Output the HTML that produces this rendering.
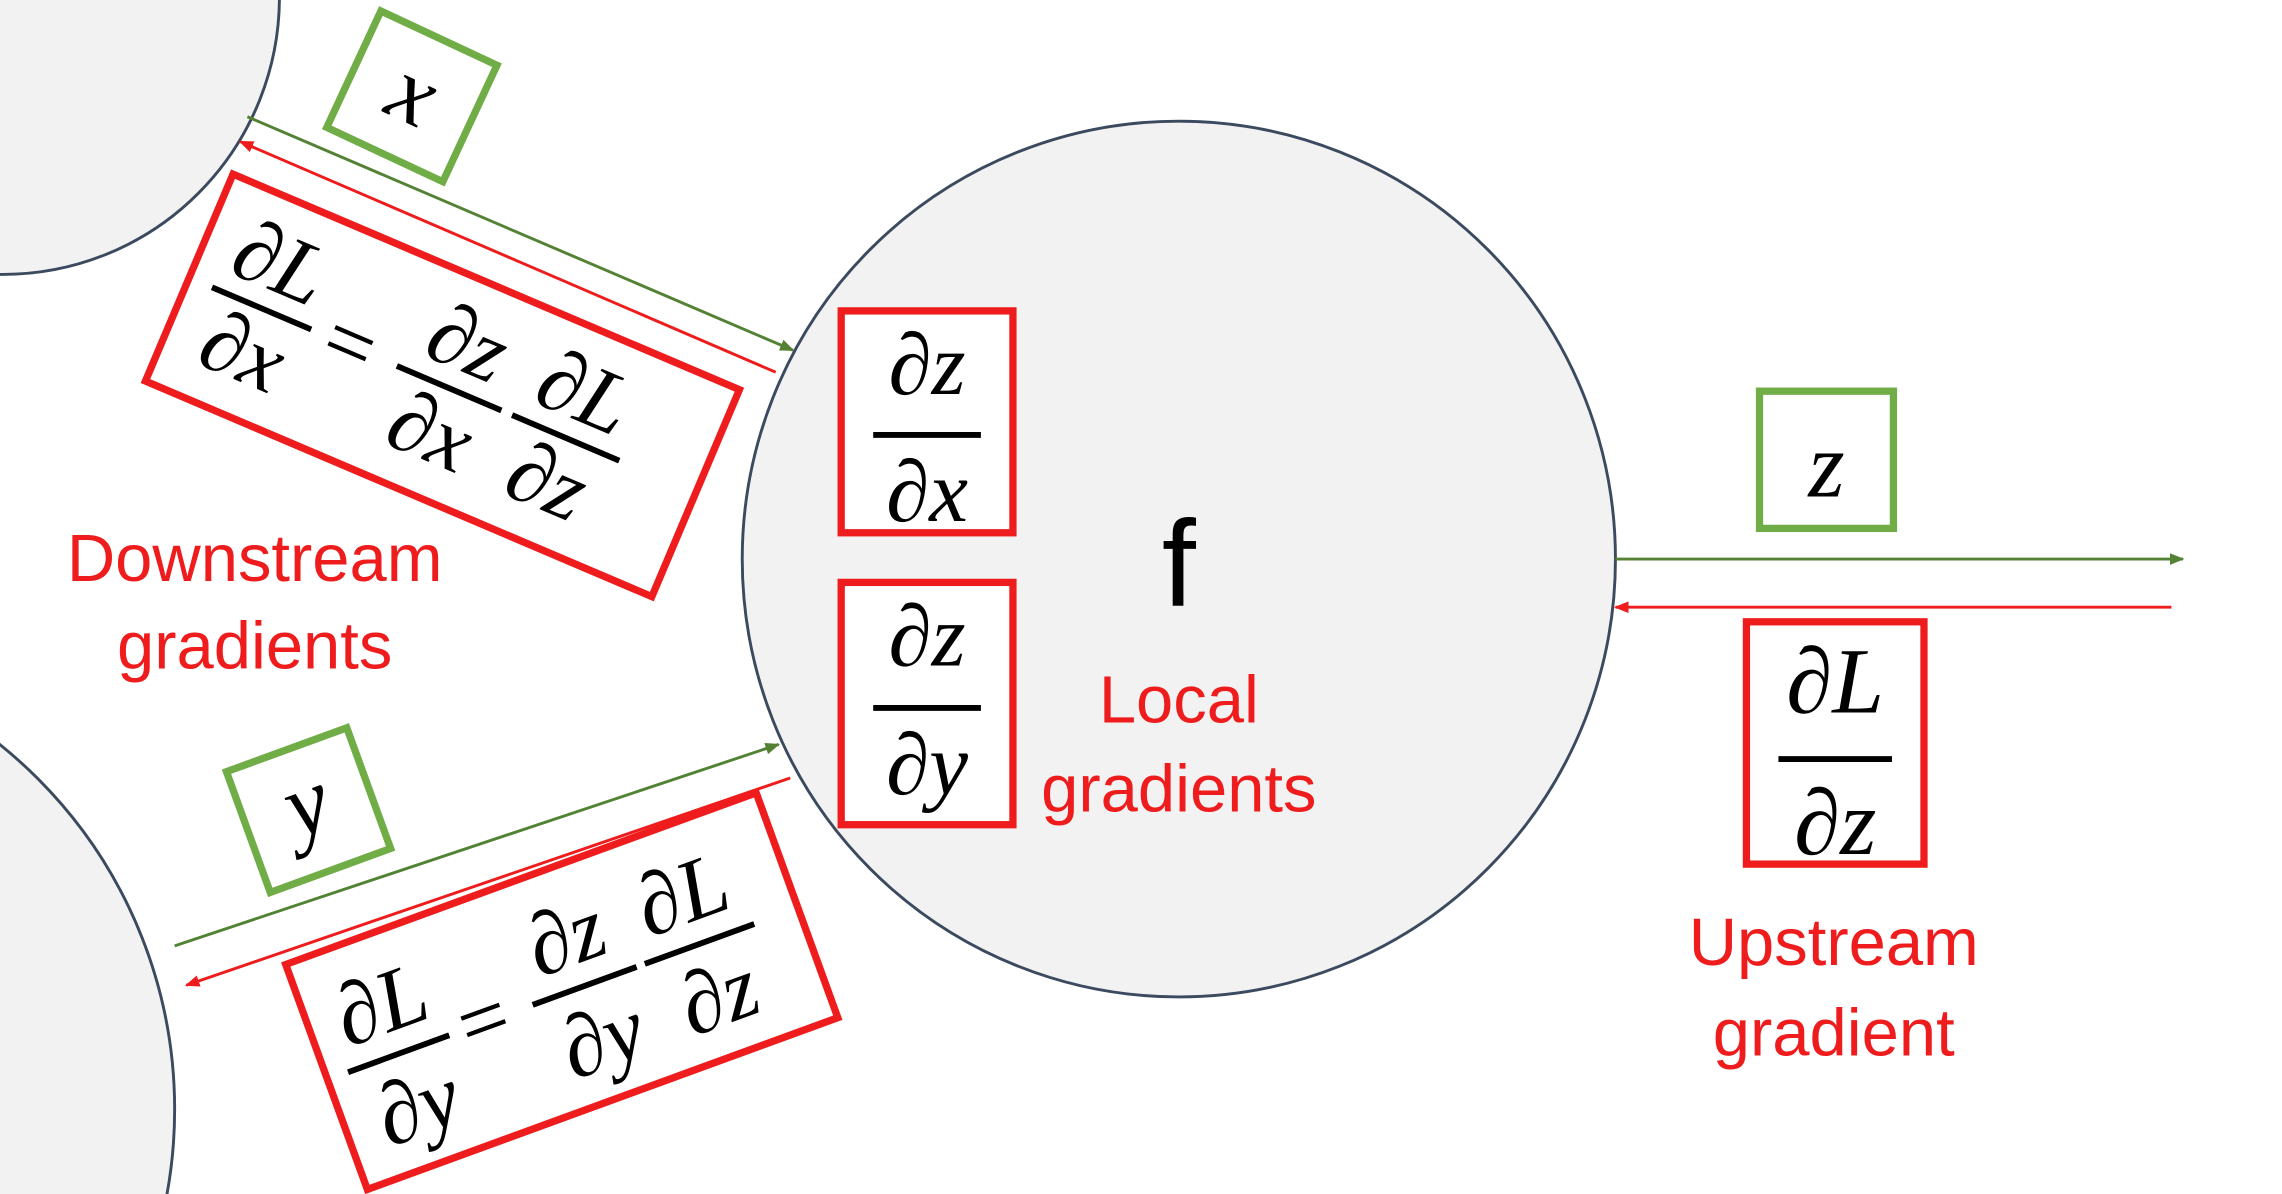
<!DOCTYPE html>
<html><head><meta charset="utf-8"><style>
html,body{margin:0;padding:0;background:#fff;overflow:hidden;width:2282px;height:1194px;}
svg{display:block;}
.m{font-family:"Liberation Serif",serif;font-style:italic;fill:#000;}
.r{font-family:"Liberation Sans",sans-serif;fill:#ee1c1c;}
</style></head><body>
<svg width="2282" height="1194" viewBox="0 0 1568 818" preserveAspectRatio="none" xmlns="http://www.w3.org/2000/svg">
<defs>
<marker id="ag" markerWidth="10" markerHeight="8" refX="9" refY="4" orient="auto" markerUnits="userSpaceOnUse"><path d="M0,0 L10,4 L0,8z" fill="#548235"/></marker>
<marker id="ar" markerWidth="10" markerHeight="8" refX="9" refY="4" orient="auto" markerUnits="userSpaceOnUse"><path d="M0,0 L10,4 L0,8z" fill="#ee1c1c"/></marker>
<clipPath id="c"><rect width="1568" height="818"/></clipPath>
</defs>
<g clip-path="url(#c)">
<rect width="1568" height="818" fill="#fff"/>
<circle cx="2" cy="-2" r="190" fill="#f2f2f2" stroke="#3b4a5e" stroke-width="2"/>
<circle cx="-200" cy="760" r="320" fill="#f2f2f2" stroke="#3b4a5e" stroke-width="2"/>
<circle cx="810" cy="383" r="300" fill="#f2f2f2" stroke="#3b4a5e" stroke-width="2"/>
<text x="810" y="415" font-family="Liberation Sans,sans-serif" font-size="84" text-anchor="middle">f</text>

<rect x="578" y="213" width="118" height="152" fill="#fff" stroke="#ee1c1c" stroke-width="5"/>
<text class="m" x="637" y="270" font-size="60" text-anchor="middle">∂z</text>
<line x1="600" y1="298" x2="674" y2="298" stroke="#000" stroke-width="4"/>
<text class="m" x="637" y="357" font-size="60" text-anchor="middle">∂x</text>
<rect x="578" y="399" width="118" height="166" fill="#fff" stroke="#ee1c1c" stroke-width="5"/>
<text class="m" x="637" y="456" font-size="60" text-anchor="middle">∂z</text>
<line x1="600" y1="485" x2="674" y2="485" stroke="#000" stroke-width="4"/>
<text class="m" x="637" y="544" font-size="60" text-anchor="middle">∂y</text>
<text class="r" x="810" y="495" font-size="46" text-anchor="middle">Local</text>
<text class="r" x="810" y="556" font-size="46" text-anchor="middle">gradients</text>

<rect x="1209" y="268" width="92" height="94" fill="#fff" stroke="#70ad47" stroke-width="5"/>
<text class="m" x="1255" y="340" font-size="64" text-anchor="middle">z</text>
<line x1="1110" y1="383" x2="1500" y2="383" stroke="#548235" stroke-width="2" marker-end="url(#ag)"/>
<line x1="1492" y1="416" x2="1110" y2="416" stroke="#ee1c1c" stroke-width="2" marker-end="url(#ar)"/>
<rect x="1200" y="426" width="122" height="166" fill="#fff" stroke="#ee1c1c" stroke-width="5"/>
<text class="m" x="1261" y="488" font-size="64" text-anchor="middle">∂L</text>
<line x1="1222" y1="520" x2="1300" y2="520" stroke="#000" stroke-width="4"/>
<text class="m" x="1261" y="585" font-size="64" text-anchor="middle">∂z</text>
<text class="r" x="1260" y="661" font-size="46" text-anchor="middle">Upstream</text>
<text class="r" x="1260" y="723" font-size="46" text-anchor="middle">gradient</text>

<line x1="170" y1="80" x2="545" y2="240" stroke="#548235" stroke-width="2" marker-end="url(#ag)"/>
<line x1="533" y1="255" x2="165" y2="97" stroke="#ee1c1c" stroke-width="2" marker-end="url(#ar)"/>
<g transform="translate(283,66) rotate(25)">
<rect x="-44" y="-44" width="88" height="88" fill="#fff" stroke="#70ad47" stroke-width="5"/>
<text class="m" x="0" y="18" font-size="64" text-anchor="middle">x</text>
</g>
<g transform="translate(304,264) rotate(23)">
<rect x="-189" y="-77" width="378" height="154" fill="#fff" stroke="#ee1c1c" stroke-width="5"/>
<text class="m" x="-135" y="-14" font-size="60" text-anchor="middle">∂L</text>
<line x1="-172" y1="0" x2="-98" y2="0" stroke="#000" stroke-width="4"/>
<text class="m" x="-135" y="52" font-size="60" text-anchor="middle">∂x</text>
<text class="m" x="-70" y="18" font-size="60" text-anchor="middle" font-style="normal">=</text>
<text class="m" x="5" y="-14" font-size="60" text-anchor="middle">∂z</text>
<line x1="-34" y1="0" x2="44" y2="0" stroke="#000" stroke-width="4"/>
<text class="m" x="5" y="52" font-size="60" text-anchor="middle">∂x</text>
<text class="m" x="92" y="-14" font-size="60" text-anchor="middle">∂L</text>
<line x1="52" y1="0" x2="132" y2="0" stroke="#000" stroke-width="4"/>
<text class="m" x="92" y="52" font-size="60" text-anchor="middle">∂z</text>
</g>
<text class="r" x="175" y="398" font-size="46" text-anchor="middle">Downstream</text>
<text class="r" x="175" y="458" font-size="46" text-anchor="middle">gradients</text>

<line x1="120" y1="648" x2="535" y2="510" stroke="#548235" stroke-width="2" marker-end="url(#ag)"/>
<line x1="543" y1="533" x2="128" y2="675" stroke="#ee1c1c" stroke-width="2" marker-end="url(#ar)"/>
<g transform="translate(212,555) rotate(-20)">
<rect x="-44" y="-44" width="88" height="88" fill="#fff" stroke="#70ad47" stroke-width="5"/>
<text class="m" x="0" y="16" font-size="64" text-anchor="middle">y</text>
</g>
<g transform="translate(386,679) rotate(-20)">
<rect x="-172" y="-82" width="344" height="164" fill="#fff" stroke="#ee1c1c" stroke-width="5"/>
<text class="m" x="-120" y="-14" font-size="60" text-anchor="middle">∂L</text>
<line x1="-157" y1="2" x2="-83" y2="2" stroke="#000" stroke-width="4"/>
<text class="m" x="-120" y="60" font-size="60" text-anchor="middle">∂y</text>
<text class="m" x="-58" y="20" font-size="60" text-anchor="middle" font-style="normal">=</text>
<text class="m" x="15" y="-14" font-size="60" text-anchor="middle">∂z</text>
<line x1="-22" y1="2" x2="54" y2="2" stroke="#000" stroke-width="4"/>
<text class="m" x="15" y="60" font-size="60" text-anchor="middle">∂y</text>
<text class="m" x="100" y="-14" font-size="60" text-anchor="middle">∂L</text>
<line x1="60" y1="2" x2="140" y2="2" stroke="#000" stroke-width="4"/>
<text class="m" x="100" y="60" font-size="60" text-anchor="middle">∂z</text>
</g>
</g>
</svg>
</body></html>
